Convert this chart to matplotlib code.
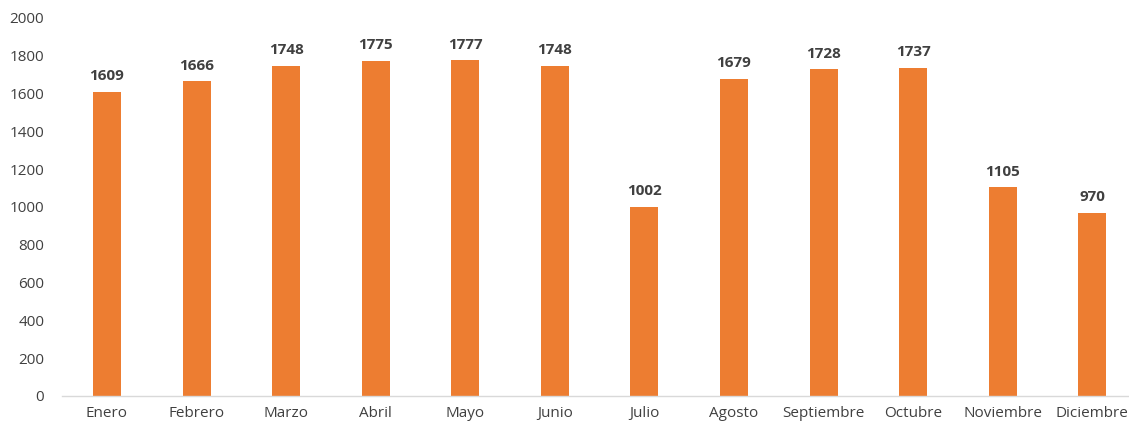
import matplotlib.pyplot as plt

# Monthly values
meses = ['Enero', 'Febrero', 'Marzo', 'Abril', 'Mayo', 'Junio', 'Julio',
         'Agosto', 'Septiembre', 'Octubre', 'Noviembre', 'Diciembre']
valores = [1609, 1666, 1748, 1775, 1777, 1748, 1002, 1679, 1728, 1737, 1105, 970]
yticks = list(range(0, 2001, 200))

plt.rcParams['font.family'] = ['Open Sans', 'DejaVu Sans']

fig = plt.figure(figsize=(11.29, 4.28), dpi=100)
ax = fig.add_axes([0.0551, 0.0748, 0.9449, 0.8832])

x = range(len(meses))
bars = ax.bar(x, valores, width=0.313, color='#ED7D31')

for i, v in enumerate(valores):
    ax.text(i, v + 45, str(v), ha='center', va='bottom', fontsize=11,
            fontweight='bold', color='#404040')

ax.set_ylim(0, 2000)
ax.set_xlim(-0.5, 11.41)
ax.set_yticks(yticks)
ax.set_xticks(list(x))
ax.set_xticklabels(meses)
ax.tick_params(axis='both', length=0, labelsize=11, labelcolor='#404040')
ax.tick_params(axis='x', pad=7)
ax.tick_params(axis='y', pad=13)

for s in ['top', 'right', 'left']:
    ax.spines[s].set_visible(False)
ax.spines['bottom'].set_color('#D9D9D9')
ax.spines['bottom'].set_linewidth(1)

fig.savefig('out.png', dpi=100)
